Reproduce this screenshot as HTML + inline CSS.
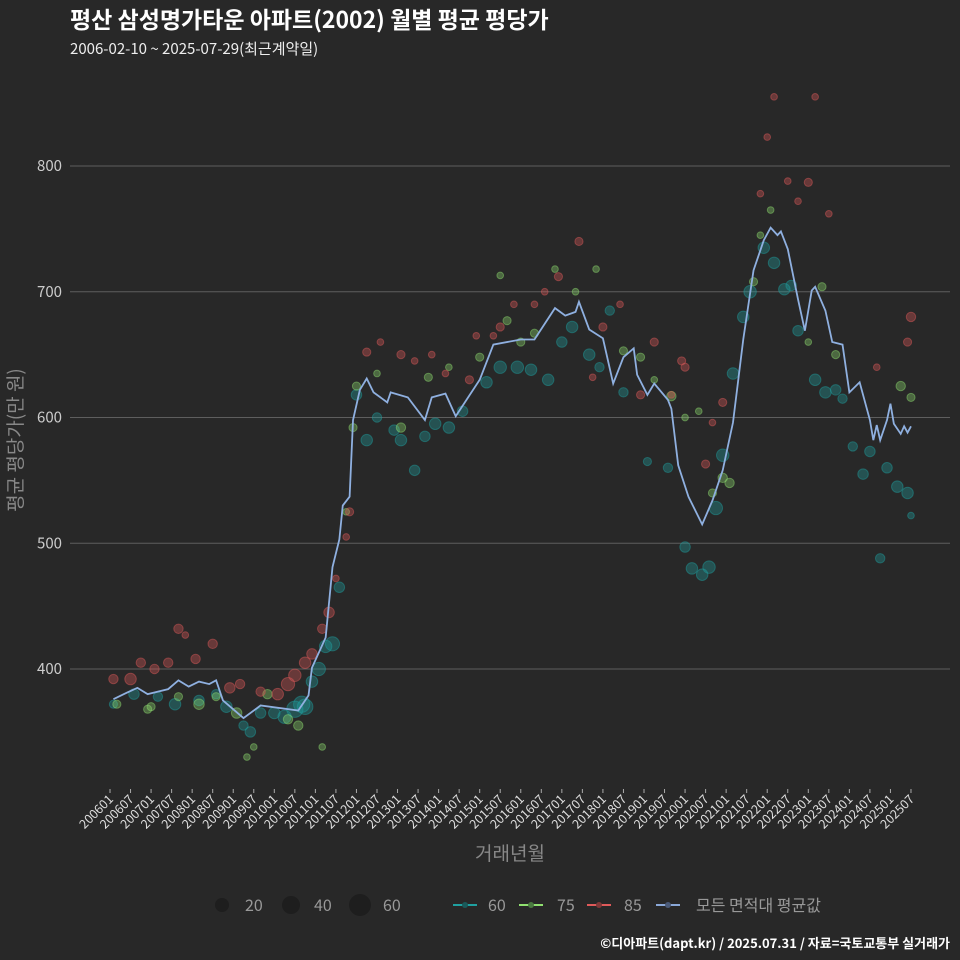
<!DOCTYPE html>
<html><head><meta charset="utf-8"><style>
body{margin:0;background:#282828;}
svg{display:block;font-family:"Noto Sans CJK KR","Liberation Sans",sans-serif;}
</style></head><body>
<svg id="chart" width="960" height="960" viewBox="0 0 960 960">
<rect width="960" height="960" fill="#282828"/>
<text x="70" y="28" fill="#fff" font-size="23" font-weight="bold">평산 삼성명가타운 아파트(2002) 월별 평균 평당가</text>
<text x="70" y="54" fill="#eee" font-size="15">2006-02-10 ~ 2025-07-29(최근계약일)</text>
<g id="grid"></g><g id="yticks"></g><g id="xticks"></g>
<g id="bubbles"></g><g id="line"></g>
<text transform="translate(22,440) rotate(-90)" text-anchor="middle" fill="#888" font-size="19">평균 평당가(만 원)</text>
<text x="510" y="860" text-anchor="middle" fill="#888" font-size="19">거래년월</text>
<g>
<circle cx="222" cy="905" r="7" fill="#1e1e1e"/>
<text x="245" y="911" fill="#999" font-size="16">20</text>
<circle cx="291" cy="905" r="9" fill="#1e1e1e"/>
<text x="314" y="911" fill="#999" font-size="16">40</text>
<circle cx="360" cy="905" r="11" fill="#1e1e1e"/>
<text x="383" y="911" fill="#999" font-size="16">60</text>
<line x1="453" y1="905" x2="477" y2="905" stroke="#1fa0a0" stroke-width="2"/><circle cx="465" cy="905" r="3" fill="#1a5a5a"/>
<text x="488" y="911" fill="#999" font-size="16">60</text>
<line x1="519" y1="905" x2="543" y2="905" stroke="#90e070" stroke-width="2"/><circle cx="531" cy="905" r="3" fill="#4a7a40"/>
<text x="557" y="911" fill="#999" font-size="16">75</text>
<line x1="587" y1="905" x2="611" y2="905" stroke="#e05a5a" stroke-width="2"/><circle cx="599" cy="905" r="3" fill="#803838"/>
<text x="624" y="911" fill="#999" font-size="16">85</text>
<line x1="656" y1="905" x2="680" y2="905" stroke="#8aa8d8" stroke-width="2"/><circle cx="668" cy="905" r="3" fill="#4a5a78"/>
<text x="696" y="911" fill="#999" font-size="16">모든 면적대 평균값</text>
</g>
<text x="950" y="948" text-anchor="end" fill="#fff" font-size="13" font-weight="bold">©디아파트(dapt.kr) / 2025.07.31 / 자료=국토교통부 실거래가</text>
</svg>
<script>
const yTicks=[400,500,600,700,800];
const avgMonths=["200602","200605","200609","200612","200703","200706","200709","200712","200803","200806","200808","200810","200904","200909","201008","201011","201012","201104","201106","201108","201109","201111","201112","201202","201204","201206","201210","201211","201304","201309","201311","201403","201406","201501","201505","201601","201605","201611","201702","201705","201706","201709","201801","201804","201807","201810","201811","201902","201904","201908","201909","201911","202002","202006","202009","202012","202103","202106","202109","202112","202202","202204","202205","202207","202210","202212","202302","202303","202306","202308","202311","202401","202404","202407","202408","202409","202410","202412","202501","202502","202504","202505","202506","202507"];
const avgValues=[376,380,385,380,382,384,391,386,390,388,391,375,361,371,367,379,401,425,481,503,530,537,598,622,631,620,612,620,616,598,616,619,601,630,658,662,662,687,681,684,692,670,663,627,648,655,634,618,627,614,607,562,537,515,534,558,596,662,717,741,751,745,748,734,694,669,701,704,685,660,658,620,628,598,582,594,582,598,611,595,587,593,588,593];
const s60=[["200602",372,15],["200608",380,25],["200703",378,20],["200708",372,30],["200803",375,25],["200808",380,20],["200811",370,30],["200904",355,20],["200906",350,25],["200909",365,25],["201001",365,30],["201004",362,40],["201007",368,60],["201009",372,60],["201010",370,55],["201012",390,30],["201102",400,40],["201104",418,35],["201106",420,45],["201108",465,25],["201201",618,25],["201204",582,30],["201207",600,20],["201212",590,25],["201302",582,30],["201306",558,25],["201309",585,25],["201312",595,30],["201404",592,30],["201408",605,25],["201503",628,30],["201507",640,35],["201512",640,35],["201604",638,30],["201609",630,30],["201701",660,25],["201704",672,30],["201709",650,30],["201712",640,20],["201803",685,20],["201807",620,20],["201902",565,15],["201908",560,20],["202001",497,25],["202003",480,30],["202006",475,30],["202008",481,35],["202010",528,40],["202012",570,35],["202103",635,30],["202106",680,30],["202108",700,35],["202112",735,30],["202203",723,30],["202206",702,30],["202208",705,25],["202210",669,25],["202303",630,30],["202306",620,30],["202309",622,25],["202311",615,20],["202402",577,20],["202405",555,25],["202407",573,25],["202410",488,20],["202412",560,25],["202503",545,30],["202506",540,30],["202507",522,10]];
const s75=[["200603",372,15],["200612",368,15],["200701",370,15],["200709",378,15],["200803",372,25],["200808",378,15],["200902",365,25],["200905",330,10],["200907",338,10],["200911",380,20],["201005",360,20],["201008",355,20],["201103",338,10],["201110",525,10],["201112",592,15],["201201",625,15],["201207",635,10],["201302",592,20],["201310",632,15],["201404",640,10],["201501",648,15],["201507",713,10],["201509",677,15],["201601",660,15],["201605",667,15],["201611",718,10],["201705",700,10],["201711",718,10],["201807",653,15],["201812",648,15],["201904",630,10],["201909",617,20],["202001",600,10],["202005",605,10],["202009",540,15],["202012",552,20],["202102",548,20],["202109",708,15],["202111",745,10],["202202",765,10],["202301",660,10],["202305",704,15],["202309",650,15],["202504",625,20],["202507",616,15]];
const s85=[["200602",392,20],["200607",392,30],["200610",405,20],["200702",400,20],["200706",405,20],["200709",432,20],["200711",427,10],["200802",408,20],["200807",420,20],["200812",385,25],["200903",388,20],["200909",382,20],["201002",380,30],["201005",388,40],["201007",395,35],["201010",405,30],["201012",412,25],["201103",432,20],["201105",445,25],["201107",472,10],["201110",505,10],["201111",525,15],["201204",652,15],["201208",660,10],["201302",650,15],["201306",645,10],["201311",650,10],["201403",635,10],["201410",630,15],["201412",665,10],["201505",665,10],["201507",672,15],["201511",690,10],["201605",690,10],["201608",700,10],["201612",712,15],["201706",740,15],["201710",632,10],["201801",672,15],["201806",690,10],["201812",618,15],["201904",660,15],["201909",618,10],["201912",645,15],["202001",640,15],["202007",563,15],["202009",596,10],["202012",612,15],["202111",778,10],["202201",823,10],["202203",855,10],["202207",788,10],["202210",772,10],["202301",787,15],["202303",855,10],["202307",762,10],["202409",640,10],["202506",660,15],["202507",680,20]];

const NS="http://www.w3.org/2000/svg";
function mi(ym){return (parseInt(ym.slice(0,4))-2006)*12+parseInt(ym.slice(4))-1;}
function X(ym){return 110+mi(ym)*3.423;}
function Y(v){return 669-(v-400)*1.2575;}
function mk(t,a,p){const e=document.createElementNS(NS,t);for(const k in a)e.setAttribute(k,a[k]);p.appendChild(e);return e;}
const grid=document.getElementById('grid'),yt=document.getElementById('yticks'),xt=document.getElementById('xticks');
yTicks.forEach(v=>{
  const l=mk('line',{x1:70,x2:950,y1:Y(v),y2:Y(v),stroke:'#5e5e5e','stroke-width':1},grid);
  
  
  const t=mk('text',{x:62,y:Y(v)+5,'text-anchor':'end',fill:'#ccc','font-size':15},yt);
  t.textContent=v;
  
  
});
for(let y=2006;y<=2025;y++)for(const m of ["01","07"]){
  const ym=y+m,x=X(ym);
  mk('line',{x1:x,x2:x,y1:789,y2:793,stroke:'#aaa'},xt);
  const t=mk('text',{transform:`translate(${x+4},800) rotate(-45)`,'text-anchor':'end',fill:'#ddd','font-size':12.5},xt);
  t.textContent=ym;
  
  
}
const bg=document.getElementById('bubbles');
[[s60,'#1fa0a0','60'],[s75,'#90e070','75'],[s85,'#e05a5a','85']].forEach(([arr,c,n])=>{
  arr.forEach(d=>{
    const e=mk('circle',{cx:X(d[0]),cy:Y(d[1]),r:Math.sqrt(d[2])*1.05,fill:c,'fill-opacity':0.35,stroke:c,'stroke-opacity':0.45},bg);
    
    
  });
});
const pts=avgMonths.map((m,i)=>X(m)+','+Y(avgValues[i])).join(' ');
const pl=mk('polyline',{points:pts,fill:'none',stroke:'#8fb0e0','stroke-width':1.8},document.getElementById('line'));


</script>
</body></html>
